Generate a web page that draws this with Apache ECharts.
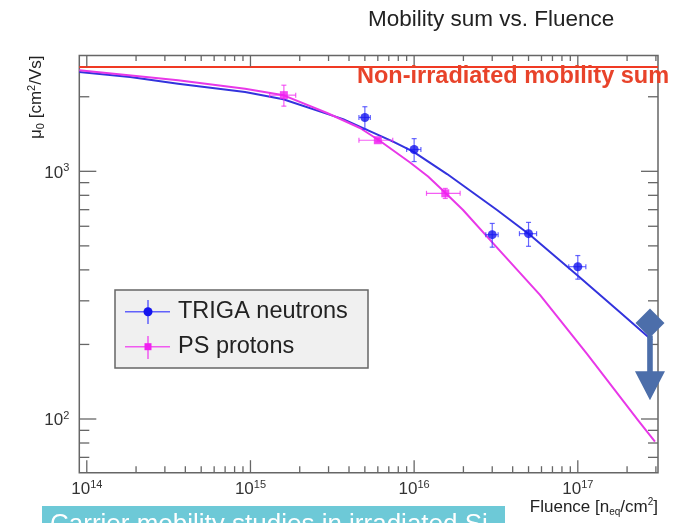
<!DOCTYPE html>
<html><head><meta charset="utf-8">
<script src="https://cdn.jsdelivr.net/npm/echarts@6.0.0/dist/echarts.min.js"></script>
<style>html,body{margin:0;padding:0;background:#fff}#c{width:682px;height:523px}</style>
</head><body><div id="c"></div>
<script>
// ---------- axis ranges ----------
const X_MIN = 9.0e13, X_MAX = 3.09e17;
const Y_MIN = 60.7, Y_MAX = 2935;

// ---------- tick values / labels ----------
const xMajorTicks = [1e14, 1e15, 1e16, 1e17];
const xMajorLabels = ['14', '15', '16', '17'];
const xMinorTicks = [2e14,3e14,4e14,5e14,6e14,7e14,8e14,9e14,
                     2e15,3e15,4e15,5e15,6e15,7e15,8e15,9e15,
                     2e16,3e16,4e16,5e16,6e16,7e16,8e16,9e16,
                     2e17,3e17];
const yMajorTicks = [100, 1000];
const yMajorLabels = ['2', '3'];
const yMinorTicks = [70,80,90,200,300,400,500,600,700,800,900,2000];

// ---------- data: TRIGA neutrons ----------
const trigaFluence    = [5e15, 1e16, 3e16, 5e16, 1e17];
const trigaMobility   = [1650, 1225, 555, 560, 412];
const trigaFluenceErr = [0.4e15, 1.0e15, 2.6e15, 6e15, 1.2e16];
const trigaMobilityErr= [173, 130, 61, 62, 45];

// ---------- data: PS protons ----------
const psFluence    = [1.6e15, 6e15, 1.55e16];
const psMobility   = [2030, 1335, 815];
const psFluenceErr = [0.29e15, 1.4e15, 3.6e15];
const psMobilityErr= [197, 20, 38];

// ---------- fit curves ----------
const trigaFitFluence = [9.0e13, 1.84e14, 3.61e14, 9.27e14, 1.585e15, 3.68e15, 7.44e15, 9.87e15, 1.59e16, 3.21e16, 5.11e16, 1.005e17, 1.81e17, 2.84e17];
const trigaFitMobility= [2518, 2403, 2258, 2090, 1955, 1625, 1317, 1200, 975, 698, 553, 378, 270, 208];
const psFitFluence = [9.0e13, 3.61e14, 9.27e14, 1.597e15, 2.94e15, 4.67e15, 6.19e15, 9.44e15, 1.217e16, 1.544e16, 1.99e16, 3.03e16, 5.87e16, 1.138e17, 2.33e17, 2.96e17];
const psFitMobility= [2557, 2330, 2156, 2027, 1720, 1496, 1326, 1085, 953, 821, 698, 513, 317, 183, 99, 81];

// ---------- reference line & annotation ----------
const nonIrradiatedMobility = 2640;
const annotationFluence = 2.76e17;
const annotationDiamond = 244;
const annotationArrowTip = 119;

// ---------- styles ----------
const FONT = '"Liberation Sans", Arial, Helvetica, sans-serif';
const AXIS = '#666';
const BLUE = '#1414ee', BLUE_LINE = '#3333dd', BLUE_ERR = 'rgba(50,50,255,0.75)';
const MAG = '#f020f0', MAG_LINE = '#e838e8', MAG_ERR = 'rgba(240,40,240,0.75)';

function errRender(color) {
  return function (params, api) {
    const x = api.value(0), y = api.value(1), ex = api.value(2), ey = api.value(3);
    const c = api.coord([x, y]);
    const l = api.coord([x - ex, y]), r = api.coord([x + ex, y]);
    const t = api.coord([x, y + ey]), b = api.coord([x, y - ey]);
    const cap = 2.5;
    const st = { stroke: color, lineWidth: 1.2 };
    return { type: 'group', children: [
      { type: 'line', shape: { x1: l[0], y1: c[1], x2: r[0], y2: c[1] }, style: st },
      { type: 'line', shape: { x1: c[0], y1: t[1], x2: c[0], y2: b[1] }, style: st },
      { type: 'line', shape: { x1: l[0], y1: c[1]-cap, x2: l[0], y2: c[1]+cap }, style: st },
      { type: 'line', shape: { x1: r[0], y1: c[1]-cap, x2: r[0], y2: c[1]+cap }, style: st },
      { type: 'line', shape: { x1: c[0]-cap, y1: t[1], x2: c[0]+cap, y2: t[1] }, style: st },
      { type: 'line', shape: { x1: c[0]-cap, y1: b[1], x2: c[0]+cap, y2: b[1] }, style: st }
    ]};
  };
}

const richTick = {
  b: { fontSize: 17, fontFamily: FONT, fill: '#333', lineHeight: 21 },
  s: { fontSize: 11, fontFamily: FONT, fill: '#333', lineHeight: 11, verticalAlign: 'top' }
};

function xTickRender(major, labels) {
  return function (params, api) {
    const cs = params.coordSys;
    const p = api.coord([api.value(0), Y_MIN]);
    const x = p[0], bottom = cs.y + cs.height, top = cs.y;
    const lb = major ? 12.5 : 6.5, lt = major ? 11 : 5.5;
    const st = { stroke: AXIS, lineWidth: 1.3 };
    const ch = [
      { type: 'line', shape: { x1: x, y1: bottom, x2: x, y2: bottom - lb }, style: st },
      { type: 'line', shape: { x1: x, y1: top, x2: x, y2: top + lt }, style: st }
    ];
    if (major) ch.push({ type: 'text', x: x, y: bottom + 17,
      style: { text: '{b|10}{s|' + labels[params.dataIndex] + '}', rich: richTick, align: 'center', verticalAlign: 'middle' } });
    return { type: 'group', children: ch };
  };
}
function yTickRender(major, labels) {
  return function (params, api) {
    const cs = params.coordSys;
    const p = api.coord([X_MIN, api.value(0)]);
    const y = p[1], left = cs.x, right = cs.x + cs.width;
    const len = major ? 17 : 10;
    const st = { stroke: AXIS, lineWidth: 1.3 };
    const ch = [
      { type: 'line', shape: { x1: left, y1: y, x2: left + len, y2: y }, style: st },
      { type: 'line', shape: { x1: right, y1: y, x2: right - len, y2: y }, style: st }
    ];
    if (major) ch.push({ type: 'text', x: left - 10, y: y + 1.5,
      style: { text: '{b|10}{s|' + labels[params.dataIndex] + '}', rich: richTick, align: 'right', verticalAlign: 'middle' } });
    return { type: 'group', children: ch };
  };
}

function annotationRender(params, api) {
  const c = api.coord([api.value(0), api.value(1)]);
  const tip = api.coord([api.value(0), api.value(2)]);
  const col = '#4c6eaa';
  const h = 14.5, w = 14.5, headH = 29, headW = 15, shaftW = 2.8;
  return { type: 'group', children: [
    { type: 'polygon', shape: { points: [[c[0], c[1]-h],[c[0]+w, c[1]],[c[0], c[1]+h],[c[0]-w, c[1]]] }, style: { fill: col } },
    { type: 'polygon', shape: { points: [
      [c[0]-shaftW, c[1]+h-2],[c[0]+shaftW, c[1]+h-2],[c[0]+shaftW, tip[1]-headH],
      [c[0]+headW, tip[1]-headH],[c[0], tip[1]],[c[0]-headW, tip[1]-headH],[c[0]-shaftW, tip[1]-headH]] }, style: { fill: col } }
  ]};
}

const option = {
  animation: false,
  backgroundColor: '#fff',
  grid: { left: 79.3, right: 24, top: 55.5, bottom: 50.3, show: true, borderColor: AXIS, borderWidth: 1.5, backgroundColor: 'transparent' },
  xAxis: { type: 'log', logBase: 10, min: X_MIN, max: X_MAX, axisLine: { show: false }, axisTick: { show: false }, axisLabel: { show: false }, splitLine: { show: false } },
  yAxis: { type: 'log', logBase: 10, min: Y_MIN, max: Y_MAX, axisLine: { show: false }, axisTick: { show: false }, axisLabel: { show: false }, splitLine: { show: false } },
  series: [
    { type: 'line', data: [[X_MIN, nonIrradiatedMobility], [X_MAX, nonIrradiatedMobility]], symbol: 'none', lineStyle: { color: '#f03a24', width: 2 }, z: 2 },
    { type: 'line', data: trigaFitFluence.map((v, i) => [v, trigaFitMobility[i]]), symbol: 'none', smooth: false, lineStyle: { color: BLUE_LINE, width: 2, join: 'round' }, z: 3 },
    { type: 'line', data: psFitFluence.map((v, i) => [v, psFitMobility[i]]), symbol: 'none', smooth: false, lineStyle: { color: MAG_LINE, width: 2, join: 'round' }, z: 3 },
    { type: 'custom', renderItem: errRender(BLUE_ERR), clip: false, z: 4, encode: { x: 0, y: 1 },
      data: trigaFluence.map((v, i) => [v, trigaMobility[i], trigaFluenceErr[i], trigaMobilityErr[i]]) },
    { type: 'custom', renderItem: errRender(MAG_ERR), clip: false, z: 4, encode: { x: 0, y: 1 },
      data: psFluence.map((v, i) => [v, psMobility[i], psFluenceErr[i], psMobilityErr[i]]) },
    { type: 'scatter', data: trigaFluence.map((v, i) => [v, trigaMobility[i]]), symbol: 'circle', symbolSize: 9, itemStyle: { color: BLUE }, z: 5 },
    { type: 'scatter', data: psFluence.map((v, i) => [v, psMobility[i]]), symbol: 'rect', symbolSize: 8, itemStyle: { color: MAG }, z: 5 },
    { type: 'custom', renderItem: xTickRender(true, xMajorLabels), clip: false, z: 6, encode: { x: 0 }, data: xMajorTicks.map(v => [v]) },
    { type: 'custom', renderItem: xTickRender(false, []), clip: false, z: 6, encode: { x: 0 }, data: xMinorTicks.map(v => [v]) },
    { type: 'custom', renderItem: yTickRender(true, yMajorLabels), clip: false, z: 6, encode: { y: 0 }, data: yMajorTicks.map(v => [v]) },
    { type: 'custom', renderItem: yTickRender(false, []), clip: false, z: 6, encode: { y: 0 }, data: yMinorTicks.map(v => [v]) },
    { type: 'custom', renderItem: annotationRender, clip: false, z: 8, encode: { x: 0, y: 1 },
      data: [[annotationFluence, annotationDiamond, annotationArrowTip]] }
  ],
  graphic: [
    { type: 'text', left: 368, top: 8, style: { text: 'Mobility sum vs. Fluence', font: '22.5px ' + FONT, fill: '#222' } },
    { type: 'text', x: 357, y: 77, z: 20, style: { text: 'Non-irradiated mobility sum', font: 'bold 23.5px ' + FONT, fill: '#e8432a', verticalAlign: 'middle' } },
    { type: 'text', x: 36, y: 55.5, rotation: Math.PI / 2, style: {
        text: '{a|μ}{sub|0}{a| [cm}{sup|2}{a|/Vs]}', align: 'right', verticalAlign: 'middle',
        rich: { a: { fontSize: 17, fontFamily: FONT, fill: '#222', lineHeight: 20 },
                sub: { fontSize: 11, fontFamily: FONT, fill: '#222', lineHeight: 11, verticalAlign: 'bottom' },
                sup: { fontSize: 11, fontFamily: FONT, fill: '#222', lineHeight: 11, verticalAlign: 'top' } } } },
    { type: 'text', x: 658, y: 507, style: {
        text: '{a|Fluence [n}{sub|eq}{a|/cm}{sup|2}{a|]}', align: 'right', verticalAlign: 'middle',
        rich: { a: { fontSize: 17, fontFamily: FONT, fill: '#222', lineHeight: 20 },
                sub: { fontSize: 10, fontFamily: FONT, fill: '#222', lineHeight: 10, verticalAlign: 'bottom' },
                sup: { fontSize: 10, fontFamily: FONT, fill: '#222', lineHeight: 10, verticalAlign: 'top' } } } },
    // legend
    { type: 'rect', shape: { x: 115, y: 290, width: 253, height: 78 }, style: { fill: '#f0f0f0', stroke: '#666', lineWidth: 1.5 }, z: 10 },
    { type: 'line', shape: { x1: 125, y1: 311.7, x2: 170, y2: 311.7 }, style: { stroke: BLUE_ERR, lineWidth: 1.5 }, z: 11 },
    { type: 'line', shape: { x1: 148, y1: 300, x2: 148, y2: 324 }, style: { stroke: BLUE_ERR, lineWidth: 1.5 }, z: 11 },
    { type: 'circle', shape: { cx: 148, cy: 311.7, r: 4.5 }, style: { fill: BLUE }, z: 12 },
    { type: 'text', x: 178, y: 312, z: 12, style: { text: 'TRIGA neutrons', font: '23.5px ' + FONT, fill: '#222', verticalAlign: 'middle' } },
    { type: 'line', shape: { x1: 125, y1: 346.7, x2: 170, y2: 346.7 }, style: { stroke: MAG_ERR, lineWidth: 1.5 }, z: 11 },
    { type: 'line', shape: { x1: 148, y1: 336, x2: 148, y2: 359 }, style: { stroke: MAG_ERR, lineWidth: 1.5 }, z: 11 },
    { type: 'rect', shape: { x: 144.5, y: 343.2, width: 7, height: 7 }, style: { fill: MAG }, z: 12 },
    { type: 'text', x: 178, y: 347, z: 12, style: { text: 'PS protons', font: '23.5px ' + FONT, fill: '#222', verticalAlign: 'middle' } },
    // banner
    { type: 'rect', shape: { x: 42, y: 506, width: 463, height: 20 }, style: { fill: '#6dc9d7' }, z: 20 },
    { type: 'text', x: 50, y: 524.5, z: 21, style: { text: 'Carrier mobility studies in irradiated Si', font: '26px ' + FONT, fill: '#ffffff', verticalAlign: 'middle' } }
  ]
};
const chart = echarts.init(document.getElementById('c'));
chart.setOption(option);
</script>
</body></html>
